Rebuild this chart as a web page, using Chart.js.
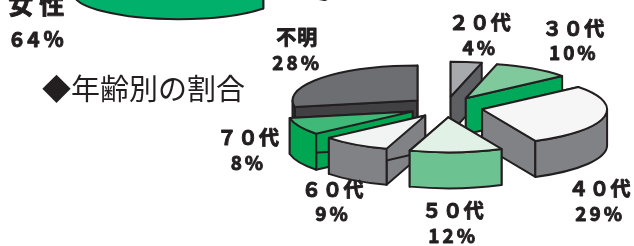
<!DOCTYPE html>
<html>
<head>
<meta charset="utf-8">
<script src="https://cdn.jsdelivr.net/npm/chart.js@4"></script>
<style>
html, body { margin: 0; padding: 0; background: #fff; }
#wrap { position: relative; width: 634px; height: 246px; overflow: hidden; }
#sexChart { position: absolute; left: 0; top: -200px; }
#ageChart { position: absolute; left: 0; top: 0; }
#title { position: absolute; left: 42px; top: 73px; font: 29px/29px "Noto Sans CJK JP"; color: #231f20; white-space: nowrap; }
</style>
</head>
<body>
<div id="wrap">
  <canvas id="sexChart" width="634" height="300"></canvas>
  <canvas id="ageChart" width="634" height="246"></canvas>
  <div id="title">◆年齢別の割合</div>
</div>
<script>
// age breakdown (%)
const ageLabels = ["２０代", "３０代", "４０代", "５０代", "６０代", "７０代", "不明"];
const agePercent = [4, 10, 29, 12, 9, 8, 28];
// sex breakdown (%), only the bottom edge of this pie is in view
const sexLabels = ["女性", "男性"];
const sexPercent = [64, 36];

const ageTop  = ["#a7a9ac", "#7fc99c", "#f6f6f6", "#e2f1e6", "#f1f4f2", "#3fb878", "#6d6e71"];
const ageSide = ["#5e5f62", "#00a85a", "#808285", "#6cc290", "#808285", "#00a651", "#414042"];
const sexTop  = ["#3fb878", "#f1f4f2"];
const sexSide = ["#00b06b", "#808285"];

// label nudges from the slice rim (px)
const ageNudge = [[14, -27], [41, -28], [-4, 48], [-3, 35], [-22, 21], [-51, -12], [-24, -28]];
const sexNudge = [[-47, 16], [0, 0]];

const INK = "#231f20";

function drawSlice(ctx, s, k, D, o) {
  const el = s.el, r = el.outerRadius, a0 = el.startAngle, a1 = el.endAngle;
  const ax = s.ax, ay = s.ay;
  const P = t => [ax + r * Math.cos(t), ay + r * k * Math.sin(t)];
  ctx.save();
  ctx.lineWidth = o.lineWidth;
  ctx.strokeStyle = INK;
  ctx.lineJoin = "round";
  ctx.fillStyle = o.side[s.i];
  // radial faces
  [a0, a1].forEach(t => {
    const [px, py] = P(t);
    ctx.beginPath();
    ctx.moveTo(ax, ay); ctx.lineTo(px, py); ctx.lineTo(px, py + D); ctx.lineTo(ax, ay + D);
    ctx.closePath(); ctx.fill(); ctx.stroke();
  });
  // front part of the outer wall
  [-2 * Math.PI, 0, 2 * Math.PI].forEach(b => {
    const t0 = Math.max(a0, b), t1 = Math.min(a1, b + Math.PI);
    if (t1 <= t0) return;
    ctx.beginPath();
    ctx.ellipse(ax, ay, r, r * k, 0, t0, t1);
    ctx.ellipse(ax, ay + D, r, r * k, 0, t1, t0, true);
    ctx.closePath(); ctx.fill(); ctx.stroke();
  });
  // top
  ctx.fillStyle = el.options.backgroundColor;
  ctx.beginPath();
  ctx.moveTo(ax, ay);
  ctx.ellipse(ax, ay, r, r * k, 0, a0, a1);
  ctx.closePath(); ctx.fill(); ctx.stroke();
  ctx.restore();
}

function heavyText(ctx, txt, x, y) {
  ctx.fillText(txt, x, y);
  ctx.strokeText(txt, x, y);
}

const pie3d = {
  id: "pie3d",
  beforeDatasetsDraw(chart, args, o) {
    const ctx = chart.ctx, k = o.tilt, D = o.depth;
    const meta = chart.getDatasetMeta(0);
    const slices = meta.data.map((el, i) => {
      const m = (el.startAngle + el.endAngle) / 2, off = el.options.offset || 0;
      return { i, el, m, ax: el.x + Math.cos(m) * off, ay: el.y + Math.sin(m) * off * k };
    });
    slices.slice().sort((a, b) => a.ay - b.ay).forEach(s => drawSlice(ctx, s, k, D, o));

    ctx.save();
    ctx.fillStyle = INK;
    ctx.strokeStyle = INK;
    ctx.lineWidth = 0.9;
    ctx.lineJoin = "round";
    ctx.textAlign = "center";
    ctx.textBaseline = "middle";
    slices.forEach(s => {
      const el = s.el, R = el.outerRadius + (el.options.offset || 0), sn = Math.sin(s.m);
      const x = el.x + R * Math.cos(s.m) + o.nudge[s.i][0];
      const y = el.y + R * k * sn + (sn > 0 ? D : 0) + o.nudge[s.i][1];
      ctx.font = "bold " + o.nameSize + "px 'Noto Sans CJK JP'";
      ctx.letterSpacing = o.nameSpacing + "px";
      heavyText(ctx, chart.data.labels[s.i], x, y - o.gap / 2);
      ctx.font = "bold " + o.pctSize + "px 'Noto Sans CJK JP'";
      ctx.letterSpacing = o.pctSpacing + "px";
      heavyText(ctx, chart.data.datasets[0].data[s.i] + "%", x, y + o.gap / 2);
    });
    ctx.restore();
    return false;
  }
};

new Chart(document.getElementById("ageChart"), {
  type: "pie",
  data: {
    labels: ageLabels,
    datasets: [{ data: agePercent, backgroundColor: ageTop, borderWidth: 0, offset: 37 }]
  },
  options: {
    responsive: false, animation: false, events: [],
    radius: 125,
    layout: { padding: { left: 258, right: 0, top: 0, bottom: 32 } },
    plugins: {
      legend: { display: false }, tooltip: { enabled: false },
      pie3d: { tilt: 0.28, depth: 36, lineWidth: 2, side: ageSide, nudge: ageNudge,
               gap: 25, nameSize: 20, nameSpacing: 1, pctSize: 19, pctSpacing: 3 }
    }
  },
  plugins: [pie3d]
});

new Chart(document.getElementById("sexChart"), {
  type: "pie",
  data: {
    labels: sexLabels,
    datasets: [{ data: sexPercent, backgroundColor: sexTop, borderWidth: 0, offset: 35 }]
  },
  options: {
    responsive: false, animation: false, events: [],
    radius: 105, rotation: 126,
    layout: { padding: { left: 0, right: 216, top: 8, bottom: 0 } },
    plugins: {
      legend: { display: false }, tooltip: { enabled: false },
      pie3d: { tilt: 0.248, depth: 35, lineWidth: 2, side: sexSide, nudge: sexNudge,
               gap: 34, nameSize: 25, nameSpacing: 6, pctSize: 21, pctSpacing: 4 }
    }
  },
  plugins: [pie3d]
});
</script>
</body>
</html>
